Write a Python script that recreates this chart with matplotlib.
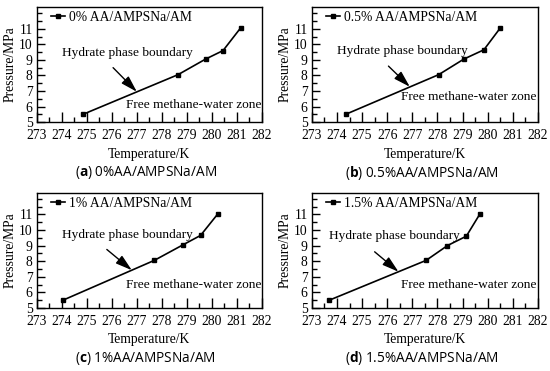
import matplotlib
matplotlib.use("Agg")
from matplotlib import pyplot as plt
from matplotlib.ticker import MultipleLocator

plt.rcParams['font.family'] = ['Liberation Serif', 'DejaVu Serif']
plt.rcParams['mathtext.fontset'] = 'custom'
plt.rcParams['mathtext.rm'] = 'Open Sans'
plt.rcParams['mathtext.bf'] = 'Open Sans:bold'

# data
temp_0 = [274.85, 278.65, 279.75, 280.45, 281.15]
pres_0 = [5.5, 8.05, 9.05, 9.6, 11.05]
temp_05 = [274.35, 278.05, 279.05, 279.85, 280.5]
pres_05 = [5.5, 8.05, 9.05, 9.65, 11.05]
temp_1 = [274.05, 277.7, 278.85, 279.55, 280.25]
pres_1 = [5.5, 8.05, 9.05, 9.65, 11.05]
temp_15 = [273.7, 277.55, 278.4, 279.15, 279.7]
pres_15 = [5.5, 8.05, 9.0, 9.6, 11.05]

legend_labels = ["0% AA/AMPSNa/AM", "0.5% AA/AMPSNa/AM",
                 "1% AA/AMPSNa/AM", "1.5% AA/AMPSNa/AM"]
letters = ["a", "b", "c", "d"]
captions = ["0%AA/AMPSNa/AM", "0.5%AA/AMPSNa/AM",
            "1%AA/AMPSNa/AM", "1.5%AA/AMPSNa/AM"]
x_ticks = list(range(273, 283))
y_ticks = list(range(5, 12))

# annotation spots: hydrate text, arrow start, arrow tip, free text
hydrate_xy = [(274.0, 9.45), (274.0, 9.55), (274.0, 9.7), (273.7, 9.6)]
arrow_from = [(276.05, 8.5), (276.05, 8.6), (275.8, 8.75), (275.5, 8.6)]
arrow_to = [(277.0, 6.95), (276.9, 7.27), (276.8, 7.42), (276.45, 7.32)]
free_xy = [(276.55, 6.08), (276.55, 6.6), (276.55, 6.5), (276.55, 6.5)]

series = [(temp_0, pres_0), (temp_05, pres_05), (temp_1, pres_1), (temp_15, pres_15)]

fig = plt.figure(figsize=(5.5, 3.71), dpi=100)

# axes boxes [left, bottom, width, height]
boxes = [[0.067, 0.671, 0.409, 0.31],
         [0.567, 0.671, 0.411, 0.31],
         [0.067, 0.170, 0.409, 0.311],
         [0.567, 0.170, 0.411, 0.311]]
cap_pos = [(0.265, 0.534), (0.768, 0.534), (0.265, 0.035), (0.768, 0.035)]

for i in range(4):
    ax = fig.add_axes(boxes[i])
    t, p = series[i]
    ax.plot(t, p, color='k', lw=1.2, marker='s', markersize=3.5, label=legend_labels[i])
    ax.set_xlim(273, 282)
    ax.set_ylim(5, 12.4)
    ax.set_xticks(x_ticks)
    ax.set_yticks(y_ticks)
    ax.xaxis.set_minor_locator(MultipleLocator(0.5))
    ax.yaxis.set_minor_locator(MultipleLocator(0.5))
    ax.tick_params(which='major', direction='in', length=7, width=1, labelsize=9.8)
    ax.tick_params(which='minor', direction='in', length=3.5, width=1)
    ax.tick_params(top=False, right=False, which='both')
    ax.tick_params(axis='y', which='major', length=6, pad=3)
    ax.tick_params(axis='x', which='major', pad=5)
    for s in ax.spines.values():
        s.set_linewidth(1)
    ax.set_xlabel("Temperature/K", fontsize=9.8, labelpad=4)
    ax.set_ylabel("Pressure/MPa", fontsize=9.8, labelpad=2)
    ax.legend(loc='upper left', bbox_to_anchor=(0.045, 1.0), frameon=False,
              fontsize=9.8, handlelength=1.0, handletextpad=0.3,
              borderaxespad=0.1, borderpad=0.2)
    ax.text(hydrate_xy[i][0], hydrate_xy[i][1], "Hydrate phase boundary",
            fontsize=9.6, va='center', ha='left')
    ax.annotate("", xy=arrow_to[i], xytext=arrow_from[i],
                arrowprops=dict(arrowstyle='-|>,head_length=1.0,head_width=0.3',
                                color='k', lw=1, shrinkA=0, shrinkB=0))
    ax.text(free_xy[i][0], free_xy[i][1], "Free methane-water zone",
            fontsize=9.6, va='center', ha='left')
    fig.text(cap_pos[i][0], cap_pos[i][1],
             r"($\mathbf{" + letters[i] + r"}$) " + captions[i],
             fontsize=9.8, family='Open Sans', ha='center', va='center')

plt.savefig("out.png", dpi=100)
